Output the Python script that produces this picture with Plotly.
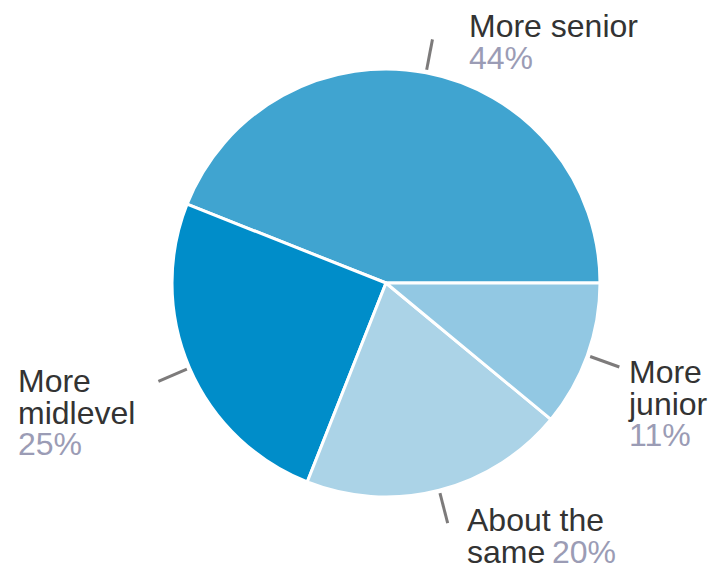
import math
import plotly.graph_objects as go

# Survey answers and their shares (percent)
categories = ["More senior", "More midlevel", "About the same", "More junior"]
shares = [44, 25, 20, 11]
slice_colors = ["#40a4d0", "#008dc9", "#abd3e7", "#92c8e3"]

W, H = 713, 569
CX, CY, R = 386, 283, 214          # pie centre and radius in pixels
LABEL_DARK = "#333333"
LABEL_PCT = "#9b9cb5"
TICK_COLOR = "#7d7b7b"
FONT = "Liberation Sans, Arial, Helvetica, sans-serif"
FS = 32                 # glyph size of the labels
LINE = 31.5             # distance between label lines
BASE_FS = LINE / 1.3    # plotly spaces lines at 1.3em of the annotation font

total = sum(shares)
first_share_deg = shares[0] / total * 360

fig = go.Figure(go.Pie(
    labels=categories,
    values=shares,
    sort=False,
    direction="counterclockwise",
    # first slice begins at 3 o'clock and runs counterclockwise
    rotation=90 - first_share_deg,
    marker=dict(colors=slice_colors, line=dict(color="white", width=3)),
    textinfo="none",
    hoverinfo="label+percent",
    showlegend=False,
    domain=dict(x=[(CX - R) / W, (CX + R) / W],
                y=[1 - (CY + R) / H, 1 - (CY - R) / H]),
))


def px(x, y):
    return x / W, 1 - y / H


# short radial ticks at the middle of each slice
start = 0.0
mids = []
for v in shares:
    ang = math.radians((start + v / 2) / total * 360)
    mids.append(ang)
    start += v

shapes = []
for ang in mids:
    x0, y0 = px(CX + 217 * math.cos(ang), CY - 217 * math.sin(ang))
    x1, y1 = px(CX + 248 * math.cos(ang), CY - 248 * math.sin(ang))
    shapes.append(dict(type="line", xref="paper", yref="paper",
                       x0=x0, y0=y0, x1=x1, y1=y1,
                       line=dict(color=TICK_COLOR, width=3)))

pct = [f"{v}%" for v in shares]


def seg(txt, col):
    return f"<span style='font-size:{FS}px;color:{col}'>{txt}</span>"


# label blocks: (left x, block centre y, text)
label_blocks = [
    (467, 42, seg(categories[0], LABEL_DARK) + "<br>" + seg(pct[0], LABEL_PCT)),
    (16, 412, seg("More", LABEL_DARK) + "<br>" + seg("midlevel", LABEL_DARK)
     + "<br>" + seg(pct[1], LABEL_PCT)),
    (465, 536, seg("About the", LABEL_DARK) + "<br>" + seg("same", LABEL_DARK)
     + " " + seg(pct[2], LABEL_PCT)),
    (626, 403, seg("More", LABEL_DARK) + "<br>" + seg("junior", LABEL_DARK)
     + "<br>" + seg(pct[3], LABEL_PCT)),
]

annotations = []
for lx, ly, txt in label_blocks:
    ax, ay = px(lx, ly)
    annotations.append(dict(
        x=ax, y=ay, xref="paper", yref="paper",
        xanchor="left", yanchor="middle", align="left",
        text=txt, showarrow=False,
        font=dict(family=FONT, size=BASE_FS, color=LABEL_DARK),
    ))

fig.update_layout(
    width=W, height=H,
    margin=dict(l=0, r=0, t=0, b=0),
    paper_bgcolor="white",
    plot_bgcolor="white",
    shapes=shapes,
    annotations=annotations,
)

fig.write_html("out.html")
